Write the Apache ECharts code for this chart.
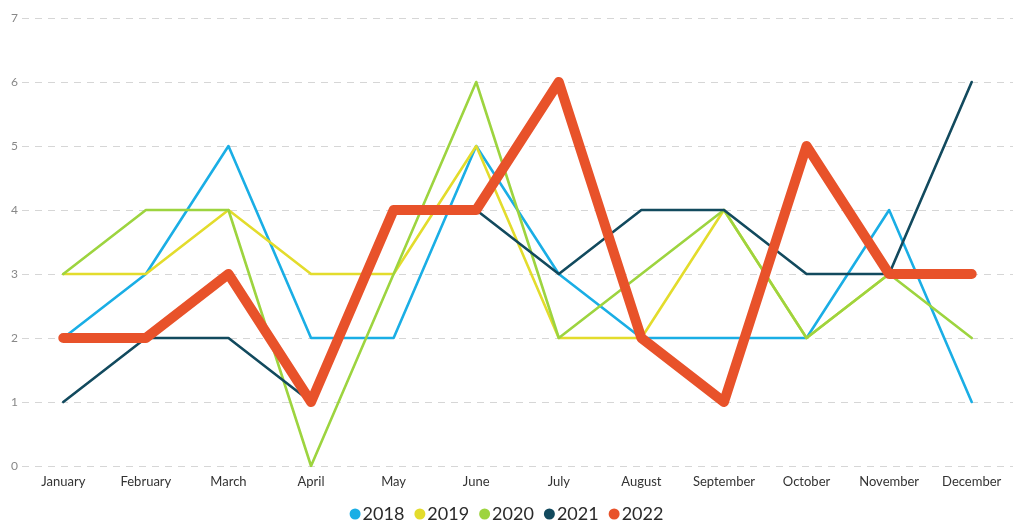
<!DOCTYPE html>
<html><head><meta charset="utf-8">
<script src="https://cdn.jsdelivr.net/npm/echarts@6/dist/echarts.min.js"></script>
<style>html,body{margin:0;padding:0;background:#fff}#c{width:1013px;height:525px}</style>
</head><body><div id="c"></div>
<script>
const months = ['January','February','March','April','May','June','July','August','September','October','November','December'];
const s2018 = [2,3,5,2,2,5,3,2,2,2,4,1];
const s2019 = [3,3,4,3,3,5,2,2,4,2,3,3];
const s2020 = [3,4,4,0,3,6,2,3,4,2,3,2];
const s2021 = [1,2,2,1,4,4,3,4,4,3,3,6];
const s2022 = [2,2,3,1,4,4,6,2,1,5,3,3];
const names = ['2018','2019','2020','2021','2022'];
const colors = ['#1aaee5','#e3dc2c','#9dd43f','#124a5e','#e8522a'];
const data = [s2018,s2019,s2020,s2021,s2022];
const chart = echarts.init(document.getElementById('c'));
chart.setOption({
  animation:false,
  color: colors,
  grid:{left:22,right:-4,top:18,bottom:59},
  legend:{bottom:-3,left:'center',icon:'circle',itemWidth:11,itemHeight:11,itemGap:10,
    textStyle:{fontSize:18,color:'#2a2a2a',fontFamily:'Lato',padding:[0,0,0,-3]},data:names},
  xAxis:{type:'category',data:months,boundaryGap:true,
    axisLine:{show:false},axisTick:{show:false},
    axisLabel:{interval:0,color:'#333',fontSize:13,fontFamily:'Lato',margin:9}},
  yAxis:{type:'value',min:0,max:7,interval:1,
    axisLabel:{color:'#888',fontSize:12,fontFamily:'Lato',margin:4},
    splitLine:{lineStyle:{type:[7,6],color:'#d6d6d6',width:1}}},
  series: names.map((n,i)=>({name:n,type:'line',data:data[i],symbol:'none',
    lineStyle:{width: i===4?10:2.6,cap:'round',join:'round'}}))
});
</script></body></html>
